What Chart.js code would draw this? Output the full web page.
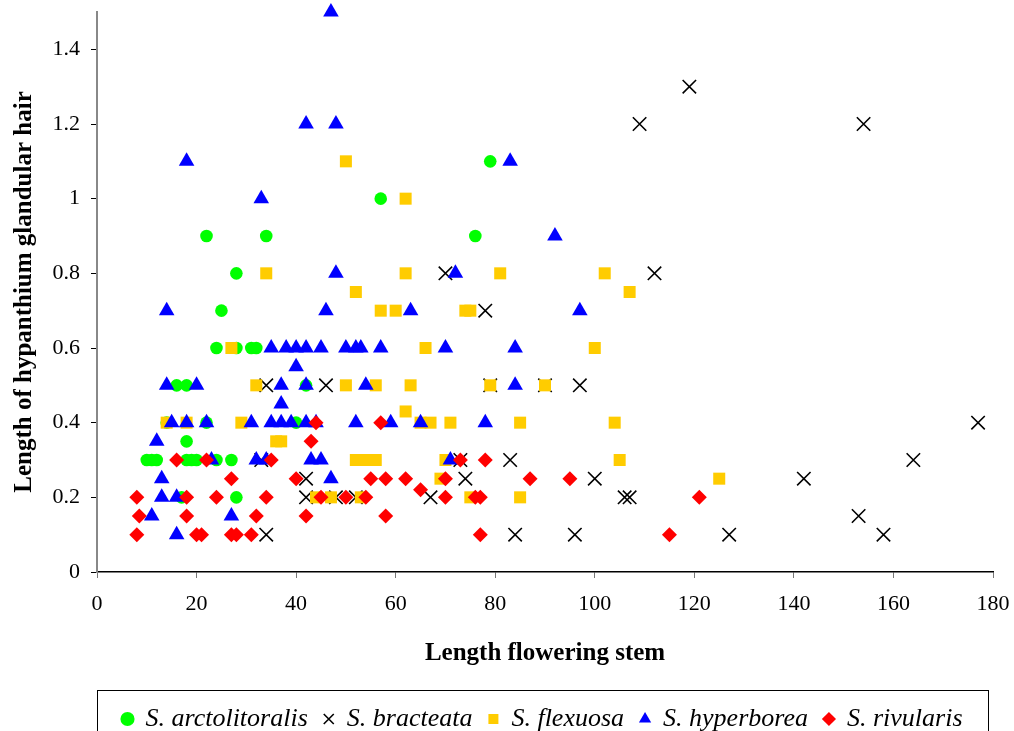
<!DOCTYPE html>
<html>
<head>
<meta charset="utf-8">
<script src="https://cdn.jsdelivr.net/npm/chart.js@4.4.0/dist/chart.umd.min.js"></script>
<style>
  html, body { margin: 0; padding: 0; background: #fff; overflow: hidden; }
  #chartReport { width: 1014px; height: 731px; overflow: hidden; }
</style>
</head>
<body>
<div id="chartReport"><canvas id="myChart" width="1014" height="742"></canvas></div>
<script>
// [length flowering stem, length of hypanthium glandular hair]
const arctolitoralis = [
  [10, 0.3], [11, 0.3], [12, 0.3], [14, 0.4], [16, 0.5], [17, 0.2], [18, 0.5], [18, 0.35],
  [18, 0.3], [19, 0.3], [20, 0.3], [22, 0.9], [22, 0.4], [24, 0.6], [24, 0.3], [25, 0.7],
  [27, 0.3], [28, 0.8], [28, 0.6], [28, 0.2], [31, 0.6], [32, 0.6], [34, 0.9], [40, 0.4],
  [42, 0.5], [57, 1.0], [76, 0.9], [79, 1.1]
];
const bracteata = [
  [33, 0.3], [34, 0.5], [34, 0.1], [42, 0.25], [42, 0.2], [46, 0.5], [48, 0.2], [52, 0.2],
  [67, 0.2], [70, 0.8], [73, 0.3], [74, 0.25], [78, 0.7], [79, 0.5], [83, 0.3], [84, 0.1],
  [90, 0.5], [96, 0.1], [97, 0.5], [100, 0.25], [106, 0.2], [107, 0.2], [109, 1.2], [112, 0.8],
  [119, 1.3], [127, 0.1], [142, 0.25], [153, 0.15], [154, 1.2], [158, 0.1], [164, 0.3], [177, 0.4]
];
const flexuosa = [
  [14, 0.4], [18, 0.4], [27, 0.6], [29, 0.4], [32, 0.5], [34, 0.8], [36, 0.35], [37, 0.35],
  [44, 0.2], [47, 0.2], [50, 1.1], [50, 0.5], [52, 0.75], [52, 0.3], [53, 0.2], [54, 0.3],
  [56, 0.3], [56, 0.5], [57, 0.7], [60, 0.7], [62, 1.0], [62, 0.8], [62, 0.43], [63, 0.5],
  [65, 0.4], [66, 0.6], [67, 0.4], [69, 0.25], [70, 0.3], [71, 0.4], [74, 0.7], [75, 0.7],
  [75, 0.2], [79, 0.5], [81, 0.8], [85, 0.4], [85, 0.2], [90, 0.5], [100, 0.6], [102, 0.8],
  [104, 0.4], [105, 0.3], [107, 0.75], [125, 0.25]
];
const hyperborea = [
  [11, 0.15], [12, 0.35], [13, 0.25], [13, 0.2], [14, 0.7], [14, 0.5], [15, 0.4], [16, 0.2],
  [16, 0.1], [18, 1.1], [18, 0.4], [20, 0.5], [22, 0.4], [23, 0.3], [27, 0.15], [31, 0.4],
  [32, 0.3], [33, 1.0], [34, 0.3], [35, 0.6], [35, 0.4], [37, 0.5], [37, 0.45], [37, 0.4],
  [38, 0.6], [39, 0.4], [40, 0.6], [40, 0.55], [42, 1.2], [42, 0.6], [42, 0.5], [42, 0.4],
  [43, 0.3], [44, 0.4], [45, 0.6], [45, 0.3], [46, 0.7], [47, 1.5], [47, 0.25], [48, 1.2],
  [48, 0.8], [50, 0.6], [52, 0.6], [52, 0.4], [53, 0.6], [54, 0.5], [57, 0.6], [59, 0.4],
  [63, 0.7], [65, 0.4], [70, 0.6], [71, 0.3], [72, 0.8], [78, 0.4], [83, 1.1], [84, 0.6],
  [84, 0.5], [92, 0.9], [97, 0.7]
];
const rivularis = [
  [8, 0.2], [8.5, 0.15], [8, 0.1], [16, 0.3], [18, 0.2], [18, 0.15], [20, 0.1], [21, 0.1],
  [22, 0.3], [24, 0.2], [27, 0.25], [27, 0.1], [28, 0.1], [31, 0.1], [32, 0.15], [34, 0.2],
  [35, 0.3], [40, 0.25], [42, 0.15], [43, 0.35], [44, 0.4], [45, 0.2], [50, 0.2], [54, 0.2],
  [55, 0.25], [57, 0.4], [58, 0.25], [58, 0.15], [62, 0.25], [65, 0.22], [70, 0.25], [70, 0.2],
  [73, 0.3], [76, 0.2], [77, 0.2], [77, 0.1], [78, 0.3], [87, 0.25], [95, 0.25], [115, 0.1],
  [121, 0.2]
];

const xTicks = [0, 20, 40, 60, 80, 100, 120, 140, 160, 180];
const yTicks = [0, 0.2, 0.4, 0.6, 0.8, 1, 1.2, 1.4];

const serif = "'Liberation Serif', 'Times New Roman', serif";

const toPoints = (rows) => rows.map(([x, y]) => ({ x, y }));

// centre the legend under the plot area and frame it
const legendFrame = {
  id: "legendFrame",
  afterLayout(chart) {
    const lg = chart.legend;
    lg.left = chart.chartArea.left;
    lg.right = chart.chartArea.right - 5;
  },
  afterDraw(chart) {
    const lg = chart.legend;
    const area = chart.chartArea;
    const ctx = chart.ctx;
    ctx.save();
    ctx.strokeStyle = "#000";
    ctx.lineWidth = 1;
    ctx.strokeRect(area.left + 0.5, lg.top + 0.5, area.right - area.left - 5, 80);
    ctx.restore();
  },
};

const chart = new Chart(document.getElementById("myChart"), {
  type: "scatter",
  data: {
    datasets: [
      {
        label: "S. arctolitoralis",
        data: toPoints(arctolitoralis),
        pointStyle: "circle",
        pointRadius: 6.3,
        backgroundColor: "#00ff00",
        borderColor: "#00ff00",
        borderWidth: 0,
        clip: false,
        order: 5,
      },
      {
        label: "S. bracteata",
        data: toPoints(bracteata),
        pointStyle: "crossRot",
        pointRadius: 9.5,
        backgroundColor: "#000",
        borderColor: "#000",
        borderWidth: 1.6,
        clip: false,
        order: 4,
      },
      {
        label: "S. flexuosa",
        data: toPoints(flexuosa),
        pointStyle: "rect",
        pointRadius: 8.5,
        backgroundColor: "#ffcc00",
        borderColor: "#ffcc00",
        borderWidth: 0,
        clip: false,
        order: 3,
      },
      {
        label: "S. hyperborea",
        data: toPoints(hyperborea),
        pointStyle: "triangle",
        pointRadius: 9,
        backgroundColor: "#0000ff",
        borderColor: "#0000ff",
        borderWidth: 0,
        clip: false,
        order: 2,
      },
      {
        label: "S. rivularis",
        data: toPoints(rivularis),
        pointStyle: "rectRot",
        pointRadius: 7.5,
        backgroundColor: "#ff0000",
        borderColor: "#ff0000",
        borderWidth: 0,
        clip: false,
        order: 1,
      },
    ],
  },
  options: {
    responsive: false,
    animation: false,
    events: [],
    layout: { padding: { left: 0, right: 21, top: 12, bottom: 0 } },
    elements: { point: { hoverRadius: 0 } },
    scales: {
      x: {
        type: "linear",
        min: 0,
        max: 180,
        afterBuildTicks: (scale) => {
          scale.ticks = xTicks.map((v) => ({ value: v }));
        },
        afterFit: (scale) => {
          scale.height = 118;
          scale.paddingLeft = 0;
          scale.paddingRight = 0;
        },
        ticks: {
          color: "#000",
          font: { family: serif, size: 22 },
          padding: 13,
          maxRotation: 0,
        },
        grid: {
          drawOnChartArea: false,
          color: "#777",
          tickLength: 6,
        },
        border: { color: "#000", width: 1.5 },
        title: {
          display: true,
          text: "Length flowering stem",
          color: "#000",
          font: { family: serif, size: 25, weight: "bold" },
          padding: { top: 0, bottom: 21 },
        },
      },
      y: {
        type: "linear",
        min: 0,
        max: 1.5,
        afterBuildTicks: (scale) => {
          scale.ticks = yTicks.map((v) => ({ value: v }));
        },
        afterFit: (scale) => {
          scale.width = 97;
          scale.paddingTop = 0;
          scale.paddingBottom = 0;
        },
        ticks: {
          color: "#000",
          font: { family: serif, size: 22 },
          padding: 11,
          callback: (v) => String(Math.round(v * 10) / 10),
        },
        grid: {
          drawOnChartArea: false,
          color: "#000",
          tickLength: 6,
        },
        border: { color: "#888", width: 2 },
        title: {
          display: true,
          text: "Length of hypanthium glandular hair",
          color: "#000",
          font: { family: serif, size: 25, weight: "bold" },
          padding: { top: 10, bottom: 0 },
        },
      },
    },
    plugins: {
      tooltip: { enabled: false },
      legend: {
        position: "bottom",
        labels: {
          usePointStyle: true,
          boxWidth: 10,
          boxHeight: 10,
          padding: 16,
          color: "#000",
          font: { family: serif, size: 26, style: "italic" },
          sort: (a, b) => a.datasetIndex - b.datasetIndex,
        },
      },
    },
  },
  plugins: [legendFrame],
});
</script>
</body>
</html>
